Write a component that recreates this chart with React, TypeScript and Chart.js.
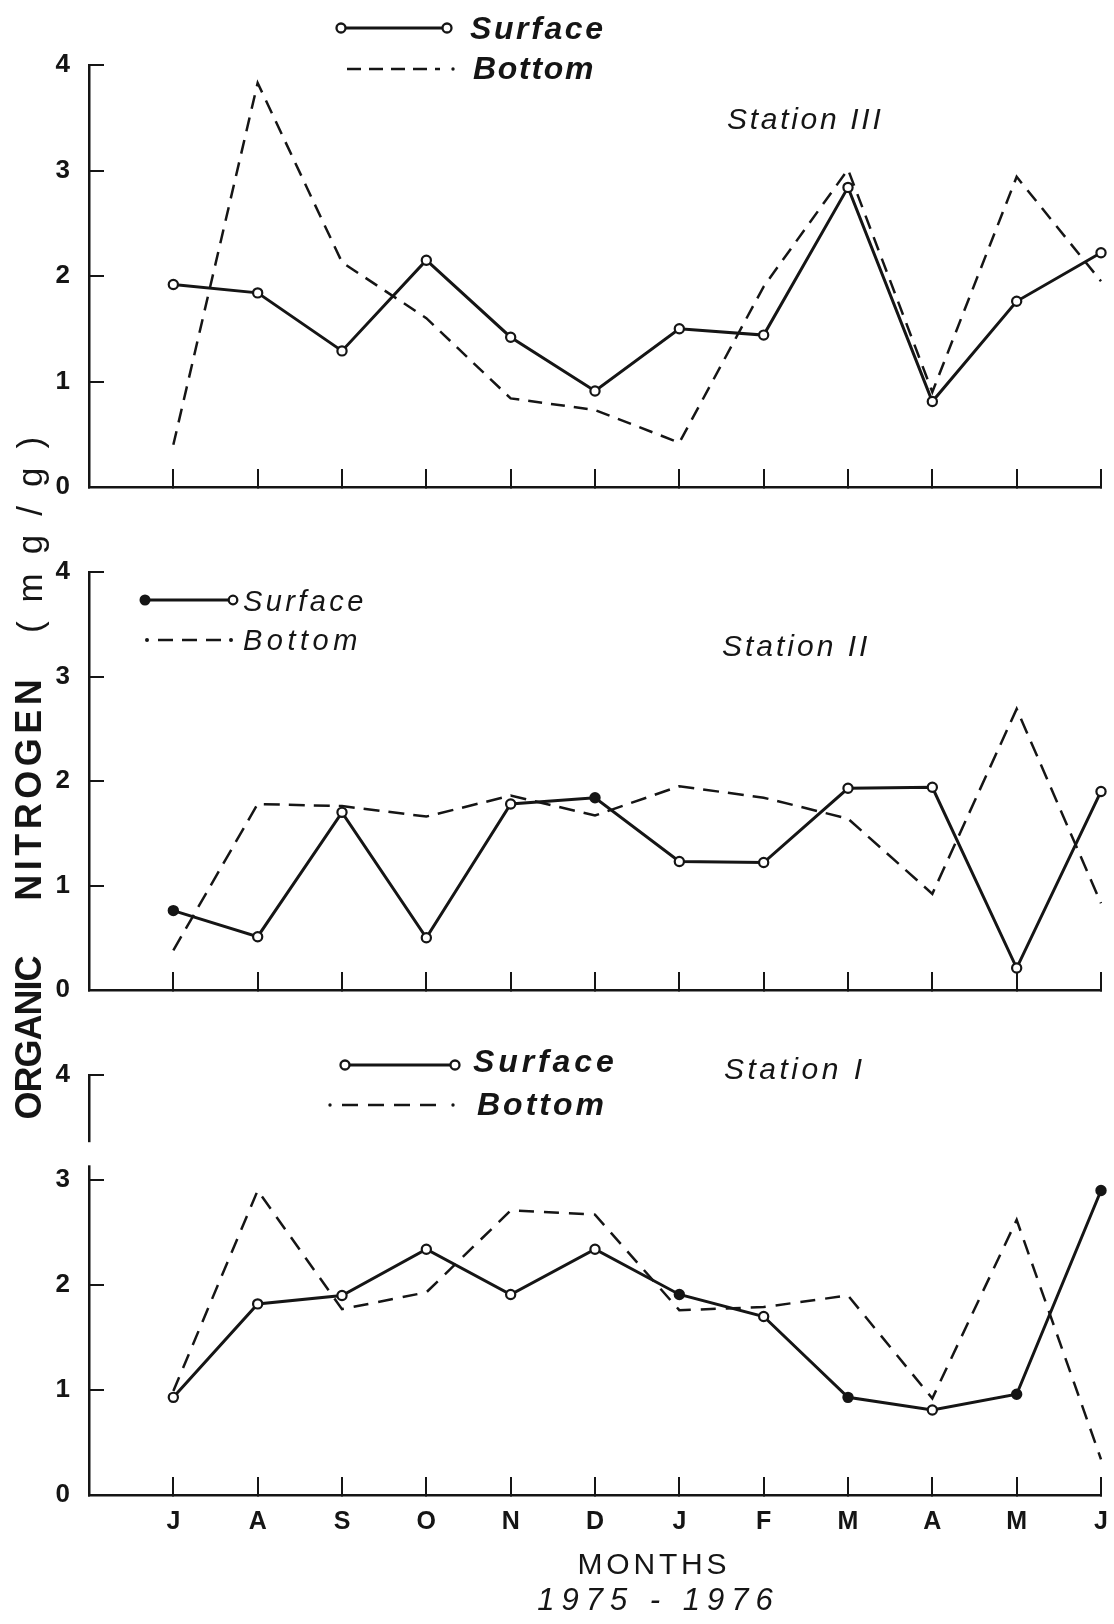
import React, { useEffect, useRef } from "react";
import { Chart, registerables } from "chart.js";

Chart.register(...registerables);

// ---------- data ----------
const MONTHS = ["J", "A", "S", "O", "N", "D", "J", "F", "M", "A", "M", "J"];
const Y_TICKS = [0, 1, 2, 3, 4];

// Station III
const ST3_SURFACE = [1.92, 1.84, 1.29, 2.15, 1.42, 0.91, 1.5, 1.44, 2.84, 0.81, 1.76, 2.22];
const ST3_BOTTOM = [0.4, 3.83, 2.13, 1.6, 0.84, 0.73, 0.42, 1.9, 3.01, 0.9, 2.94, 1.95];
// Station II
const ST2_SURFACE = [0.76, 0.51, 1.7, 0.5, 1.78, 1.84, 1.23, 1.22, 1.93, 1.94, 0.21, 1.9];
const ST2_BOTTOM = [0.38, 1.78, 1.76, 1.66, 1.86, 1.67, 1.95, 1.84, 1.64, 0.92, 2.69, 0.83];
// Station I
const ST1_SURFACE = [0.93, 1.82, 1.9, 2.34, 1.91, 2.34, 1.91, 1.7, 0.93, 0.81, 0.96, 2.9];
const ST1_BOTTOM = [0.99, 2.9, 1.77, 1.93, 2.71, 2.67, 1.76, 1.79, 1.9, 0.92, 2.62, 0.34];

// indices of points drawn as filled dots (style only)
const ST3_FILLED: number[] = [];
const ST2_FILLED = [0, 5];
const ST1_FILLED = [6, 8, 10, 11];

// ---------- style ----------
const FONT = '"Liberation Sans", Arial, Helvetica, sans-serif';
const INK = "#151515";

type PanelProps = {
  surface: number[];
  bottom: number[];
  filled: number[];
  top: number;
  height: number;
  padTop: number;
  xHeight: number;
  showLabels: boolean;
  dash: number[];
  axisBreak?: [number, number];
};

function Panel(p: PanelProps) {
  const ref = useRef<HTMLCanvasElement | null>(null);
  useEffect(() => {
    if (!ref.current) return;
    const breakPlugin = {
      id: "axisBreak",
      afterDraw(chart: any) {
        if (!p.axisBreak) return;
        const ys = chart.scales.y;
        const a = ys.getPixelForValue(p.axisBreak[1]);
        const b = ys.getPixelForValue(p.axisBreak[0]);
        const c = chart.ctx;
        c.save();
        c.fillStyle = "#ffffff";
        c.fillRect(chart.chartArea.left - 4, a, 8, b - a);
        c.restore();
      },
    };
    const chart = new Chart(ref.current, {
      type: "line",
      data: {
        datasets: [
          {
            label: "Surface",
            data: p.surface.map((v, i) => ({ x: i, y: v })),
            borderColor: INK,
            borderWidth: 3,
            pointRadius: 4.6,
            pointBorderWidth: 2.2,
            pointBorderColor: INK,
            pointBackgroundColor: p.surface.map((_, i) => (p.filled.includes(i) ? INK : "#ffffff")),
            tension: 0,
            clip: false,
            order: 0,
          } as any,
          {
            label: "Bottom",
            data: p.bottom.map((v, i) => ({ x: i, y: v })),
            borderColor: INK,
            borderWidth: 2.5,
            borderDash: p.dash,
            pointRadius: 0,
            tension: 0,
            clip: false,
            order: 1,
          } as any,
        ],
      },
      options: {
        animation: false,
        responsive: false,
        layout: { padding: { top: p.padTop, right: 13, left: 0, bottom: 0 } },
        plugins: { legend: { display: false }, tooltip: { enabled: false } },
        scales: {
          x: {
            type: "linear",
            min: -1,
            max: 11,
            afterBuildTicks: (s: any) => {
              s.ticks = [-1, ...MONTHS.map((_, i) => i)].map((v) => ({ value: v }));
            },
            ticks: {
              display: p.showLabels,
              autoSkip: false,
              maxRotation: 0,
              callback: (v: any) => (MONTHS[v as number] ?? ""),
              font: { family: FONT, size: 25, weight: "bold" },
              color: INK,
              padding: 30,
            },
            grid: { drawOnChartArea: false, drawTicks: true, tickLength: -18, color: INK, lineWidth: 2 },
            border: { display: true, color: INK, width: 2.5 },
            afterFit: (s: any) => {
              s.height = p.xHeight;
              s.paddingLeft = 0;
              s.paddingRight = 0;
            },
          },
          y: {
            type: "linear",
            min: 0,
            max: 4,
            afterBuildTicks: (s: any) => {
              s.ticks = Y_TICKS.map((v) => ({ value: v }));
            },
            ticks: {
              font: { family: FONT, size: 26, weight: "bold" },
              color: INK,
              padding: 34,
            },
            grid: { drawOnChartArea: false, drawTicks: true, tickLength: -15, color: INK, lineWidth: 2 },
            border: { display: true, color: INK, width: 2.5 },
            afterFit: (s: any) => {
              s.width = 89;
              s.paddingTop = 0;
              s.paddingBottom = 0;
            },
          },
        },
      } as any,
      plugins: [breakPlugin],
    });
    return () => chart.destroy();
  }, []);
  return (
    <canvas
      ref={ref}
      width={1114}
      height={p.height}
      style={{ position: "absolute", left: 0, top: p.top, width: 1114, height: p.height }}
    />
  );
}

type LabelProps = {
  x: number;
  y: number;
  text: string;
  size: number;
  italic?: boolean;
  bold?: boolean;
  ls?: number;
  center?: boolean;
};

function Label({ x, y, text, size, italic, bold, ls = 0, center }: LabelProps) {
  return (
    <div
      style={{
        position: "absolute",
        left: center ? x + ls / 2 : x,
        top: y - 0.49 * size,
        fontFamily: FONT,
        fontSize: size,
        lineHeight: `${size}px`,
        fontStyle: italic ? "italic" : "normal",
        fontWeight: bold ? "bold" : "normal",
        letterSpacing: ls,
        whiteSpace: "pre",
        color: INK,
        transform: center ? "translateX(-50%)" : undefined,
      }}
    >
      {text}
    </div>
  );
}

function VLabel({ x, y, text, size, bold, ls = 0 }: LabelProps) {
  return (
    <div
      style={{
        position: "absolute",
        left: x,
        top: y,
        fontFamily: FONT,
        fontSize: size,
        lineHeight: `${size}px`,
        fontWeight: bold ? "bold" : "normal",
        letterSpacing: ls,
        paddingLeft: ls,
        whiteSpace: "pre",
        color: INK,
        transform: "translate(-50%, -50%) rotate(-90deg)",
      }}
    >
      {text}
    </div>
  );
}

function Legends() {
  const sw = 3;
  return (
    <svg
      width={1114}
      height={1624}
      style={{ position: "absolute", left: 0, top: 0, pointerEvents: "none" }}
    >
      {/* Station III legend */}
      <line x1={341} y1={28} x2={447} y2={28} stroke={INK} strokeWidth={sw} />
      <circle cx={341} cy={28} r={4.5} fill="#fff" stroke={INK} strokeWidth={2.3} />
      <circle cx={447} cy={28} r={4.5} fill="#fff" stroke={INK} strokeWidth={2.3} />
      <line x1={347} y1={69} x2={440} y2={69} stroke={INK} strokeWidth={2.5} strokeDasharray="14 8" />
      <circle cx={453} cy={69} r={1.7} fill={INK} />

      {/* Station II legend */}
      <line x1={145} y1={600} x2={233} y2={600} stroke={INK} strokeWidth={sw} />
      <circle cx={145} cy={600} r={5.5} fill={INK} />
      <circle cx={233} cy={600} r={4.3} fill="#fff" stroke={INK} strokeWidth={2.3} />
      <circle cx={147} cy={640} r={2} fill={INK} />
      <line x1={158} y1={640} x2={229} y2={640} stroke={INK} strokeWidth={2.7} strokeDasharray="15 9" />
      <circle cx={231} cy={640} r={2} fill={INK} />

      {/* Station I legend */}
      <line x1={345} y1={1065} x2={455} y2={1065} stroke={INK} strokeWidth={sw} />
      <circle cx={345} cy={1065} r={4.5} fill="#fff" stroke={INK} strokeWidth={2.3} />
      <circle cx={455} cy={1065} r={4.5} fill="#fff" stroke={INK} strokeWidth={2.3} />
      <circle cx={330} cy={1105} r={1.7} fill={INK} />
      <line x1={342} y1={1105} x2={441} y2={1105} stroke={INK} strokeWidth={2.5} strokeDasharray="16 10" />
      <circle cx={453} cy={1105} r={1.7} fill={INK} />
    </svg>
  );
}

export default function App() {
  return (
    <div
      style={{
        position: "absolute",
        left: 0,
        top: 0,
        width: 1114,
        height: 1624,
        background: "#ffffff",
        overflow: "hidden",
      }}
    >
      <Panel
        surface={ST3_SURFACE}
        bottom={ST3_BOTTOM}
        filled={ST3_FILLED}
        top={0}
        height={547}
        padTop={65}
        xHeight={60}
        showLabels={false}
        dash={[14, 9]}
      />
      <Panel
        surface={ST2_SURFACE}
        bottom={ST2_BOTTOM}
        filled={ST2_FILLED}
        top={520}
        height={530}
        padTop={52}
        xHeight={60}
        showLabels={false}
        dash={[16, 9]}
      />
      <Panel
        surface={ST1_SURFACE}
        bottom={ST1_BOTTOM}
        filled={ST1_FILLED}
        top={1024}
        height={600}
        padTop={51}
        xHeight={129}
        showLabels={true}
        dash={[15, 10]}
        axisBreak={[3.14, 3.36]}
      />

      <Legends />

      {/* legend texts */}
      <Label x={470} y={28} text="Surface" size={32} italic bold ls={2.6} />
      <Label x={473} y={68} text="Bottom" size={32} italic bold ls={1.7} />
      <Label x={243} y={601} text="Surface" size={29} italic ls={3.4} />
      <Label x={243} y={640} text="Bottom" size={29} italic ls={4.5} />
      <Label x={473} y={1061} text="Surface" size={32} italic bold ls={3.9} />
      <Label x={477} y={1104} text="Bottom" size={32} italic bold ls={3} />

      {/* station labels */}
      <Label x={727} y={119} text="Station III" size={30} italic ls={2.7} />
      <Label x={722} y={646} text="Station II" size={30} italic ls={3} />
      <Label x={724} y={1069} text="Station I" size={30} italic ls={3.5} />

      {/* y axis title */}
      <VLabel x={29} y={1038} text="ORGANIC" size={36} bold ls={-1} />
      <VLabel x={29} y={790} text="NITROGEN" size={36} bold ls={4.5} />
      <VLabel x={29} y={535} text="(mg/g)" size={35} ls={19} />

      {/* x axis title */}
      <Label x={652} y={1564} text="MONTHS" size={30} ls={3.8} center />
      <Label x={655} y={1599} text="1975 - 1976" size={31} italic ls={7} center />
    </div>
  );
}
